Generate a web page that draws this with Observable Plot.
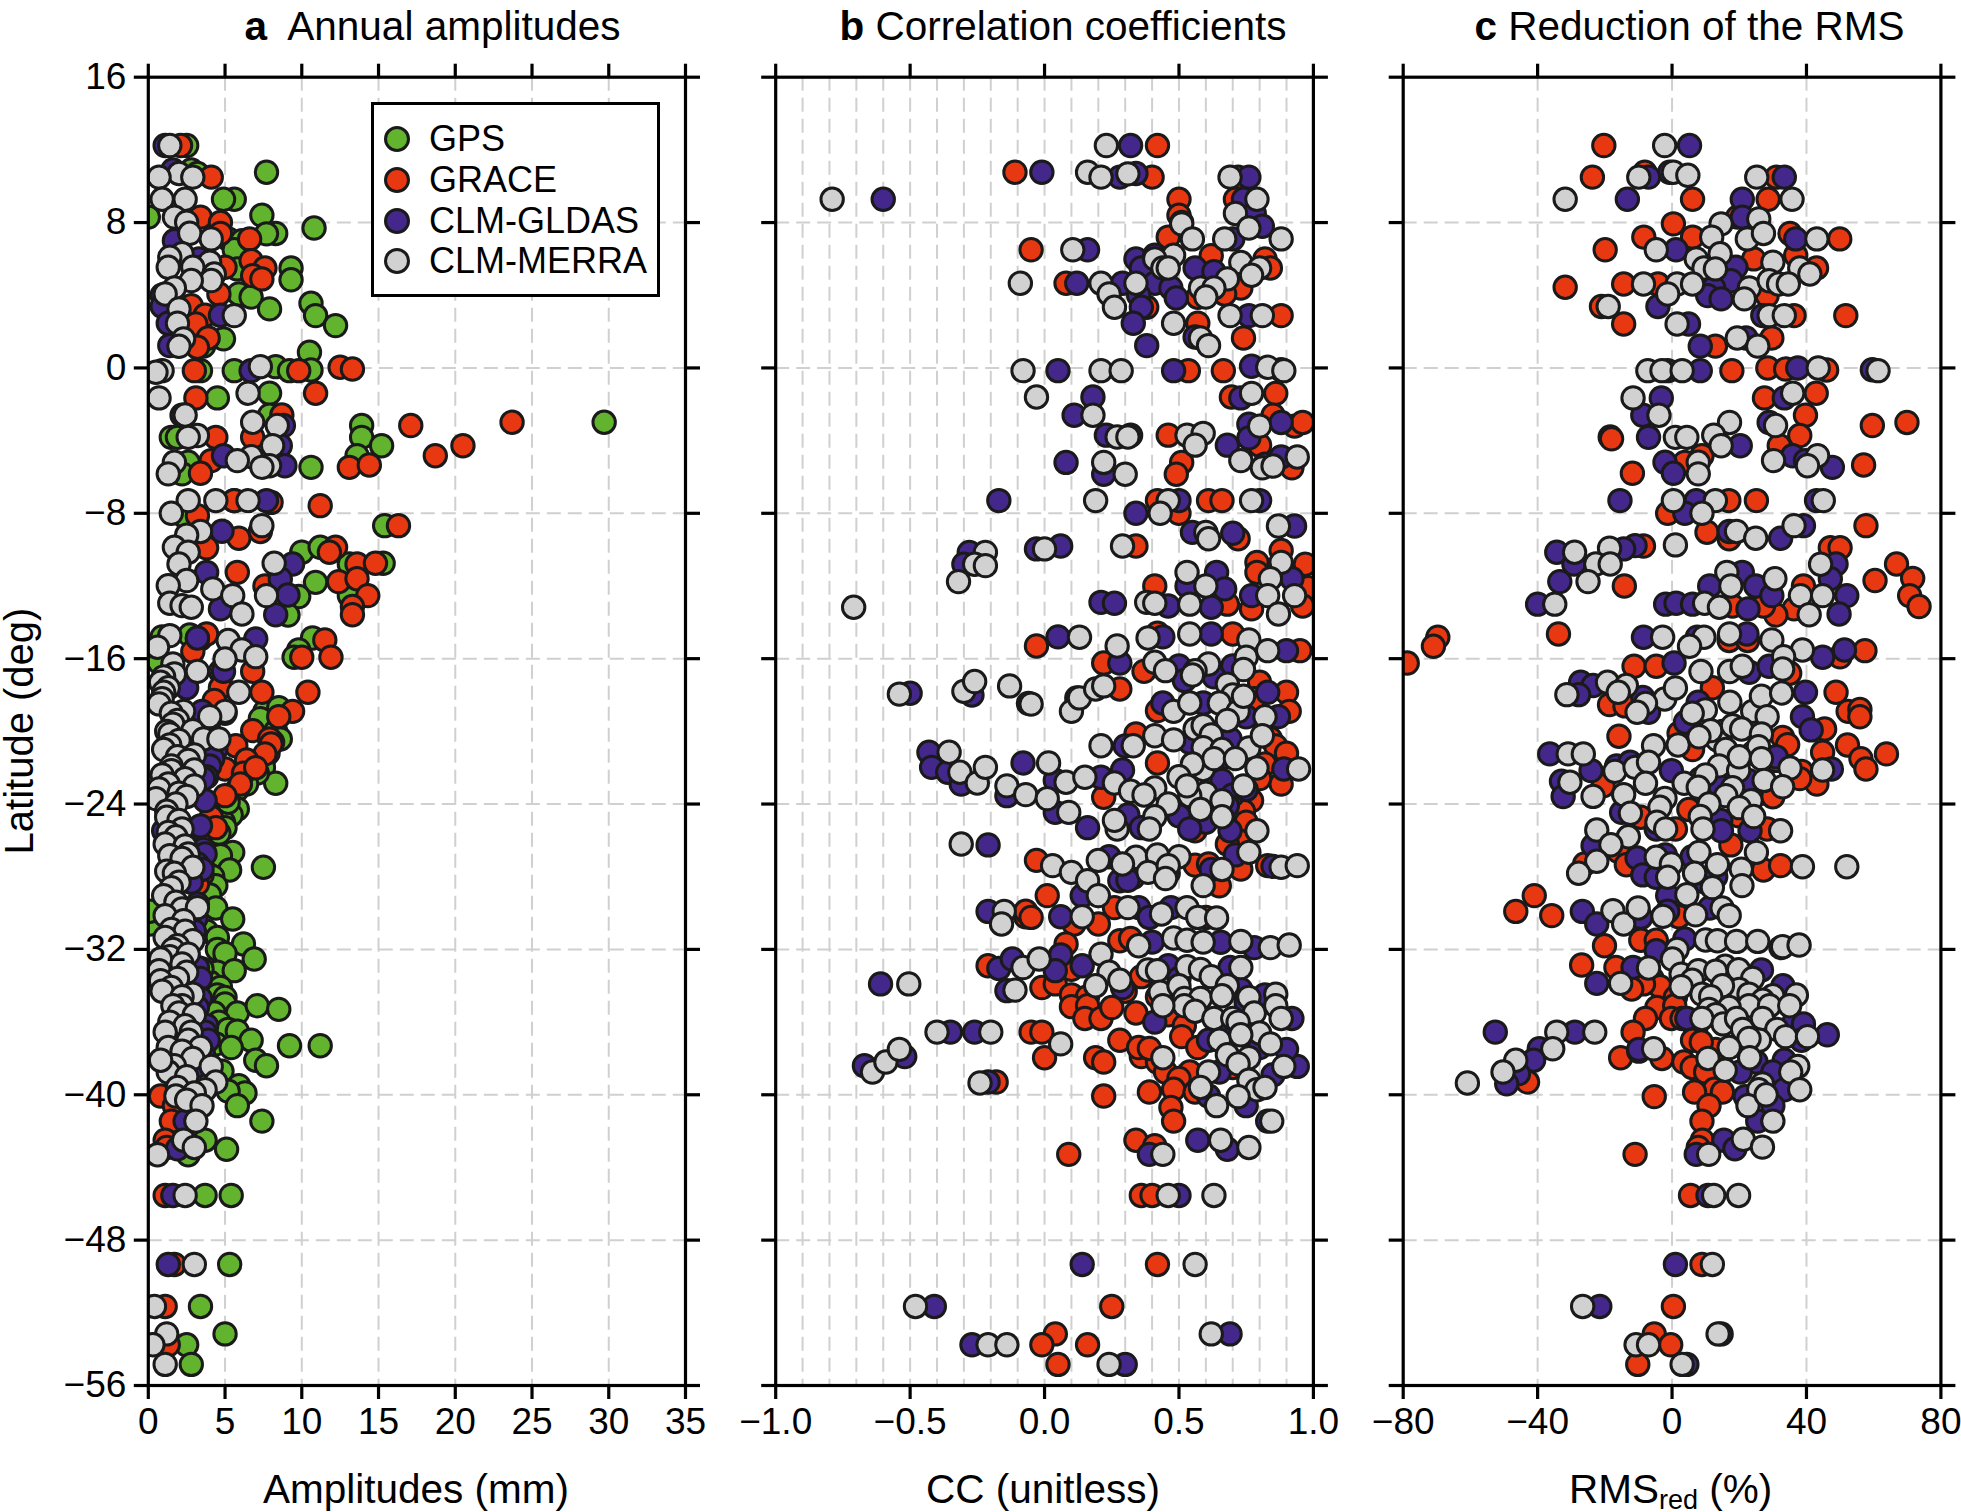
<!DOCTYPE html>
<html><head><meta charset="utf-8">
<script src="https://cdn.jsdelivr.net/npm/d3@7"></script>
<script src="https://cdn.jsdelivr.net/npm/@observablehq/plot@0.6"></script>
<style>
html,body{margin:0;padding:0;background:#fff;width:1961px;height:1512px;overflow:hidden;font-family:"Liberation Sans",Arial,sans-serif;color:#000}
.abs{position:absolute;white-space:pre}
.panel{position:absolute;top:0}
.panel svg{background:transparent;display:block}
.title,.xl{font-size:40.5px;line-height:44px;transform:translateX(-50%)}
.title{top:4px}.xl{top:1467px}
sub{font-size:27px;line-height:0;vertical-align:-6px}
#legend{left:371px;top:102px;width:283px;height:189px;border:3.2px solid #000;background:#fff}
#legend div{position:absolute;left:55px;font-size:36px;line-height:40px;white-space:pre}
#legend i{position:absolute;left:-45px;top:7px;width:20px;height:20px;border:3px solid #1a1a1a;border-radius:50%;display:block}
</style></head><body>
<script>
const seriesNames=["GPS","GRACE","CLM-GLDAS","CLM-MERRA"];
const seriesColors=["#62b32e","#e83812","#44278b","#d1d1d1"];
const latTicks=[16,8,0,-8,-16,-24,-32,-40,-48,-56];
const ampTicks=[0,5,10,15,20,25,30,35];
const ccTicks=[-1,-0.5,0,0.5,1];
const ccGrid=[-0.9,-0.8,-0.7,-0.6,-0.5,-0.4,-0.3,-0.2,-0.1,0,0.1,0.2,0.3,0.4,0.5,0.6,0.7,0.8,0.9];
const rmsTicks=[-80,-40,0,40,80];

// Panel a: [latitude, amplitude in mm]
const ampGps=[[12.24,2.5],[10.9,2.8],[10.7,3.2],[10.77,7.7],[9.28,5.6],[9.28,4.9],[8.3,0],[8.4,7.4],[7.7,10.8],[7.4,8.3],[7.38,7.7],[7.1,5.2],[7,6.1],[6.5,5.6],[5.5,9.3],[4.85,9.3],[5.45,5.8],[4.07,5.9],[3.9,6.7],[3.56,10.6],[3.25,7.9],[2.88,10.9],[2.33,12.2],[1.6,4.9],[1.2,3.6],[0.86,10.5],[-0.15,3.4],[-0.15,5.6],[0.07,8.3],[-0.15,9.2],[-0.11,10.6],[-1.65,4.5],[-1.39,7.9],[-2.6,7.9],[-3.17,13.9],[-2.99,29.7],[-3.82,1.5],[-3.82,1.9],[-3.82,13.9],[-4.28,15.2],[-5.19,2.6],[-5.83,2.2],[-5.47,10.6],[-4.83,13.6],[-7.3,5.6],[-8.13,2.3],[-8.68,15.4],[-10.14,10],[-9.87,11.2],[-10.79,13.1],[-10.75,15.3],[-11.8,10.9],[-12.53,13.1],[-12.58,9.8],[-13.6,9.1],[-14.86,10.7],[-15.52,9.8],[-15.92,9.5],[-14.8,0.9],[-14.7,2.7],[-14.9,3.4],[-16.2,0.7],[-16.7,4.7],[-17.8,5.1],[-18.9,7.6],[-18.7,8.5],[-19.3,7.3],[-20,8.3],[-20.42,8.6],[-20.6,8.1],[-21.2,7.8],[-21.6,7.5],[-22,7.5],[-22.4,6.7],[-22.86,8.3],[-22.3,7.1],[-22.9,6.4],[-23.2,5.8],[-24.27,5.8],[-24.6,5.4],[-25,4.9],[-23.9,5.2],[-25.3,5],[-25.6,4.6],[-26.66,5.5],[-26.84,4.7],[-27.63,5.3],[-27.48,7.5],[-28,4.2],[-28.49,4.4],[-29,4],[-29.72,4.4],[-30.33,5.5],[-30.6,0.1],[-29.9,0.1],[-31,3.8],[-31.34,4.5],[-32,4.5],[-31.7,6.2],[-32.53,6.9],[-32.22,5],[-33.26,4.5],[-33.8,4],[-33.17,5.6],[-33.08,3.5],[-34.09,4.7],[-34.5,4.5],[-34.64,5],[-35,5],[-35.5,4.3],[-35.5,5.8],[-35.1,7.1],[-35.3,8.5],[-36,4.6],[-36.4,5.2],[-36.5,5.8],[-37,6.7],[-37.2,4.4],[-37.3,9.2],[-37.3,11.2],[-37.4,5.4],[-38.1,7],[-38.4,7.7],[-38.7,4.8],[-39.5,5.9],[-39.9,6.3],[-39.8,5.2],[-40.6,5.8],[-41.45,7.4],[-42.5,3.7],[-43,5.1],[-43.3,2.6],[-45.54,3.7],[-45.54,5.4],[-49.34,5.3],[-51.65,3.4],[-53.16,5],[-53.76,2.5],[-54.84,2.8]];
const ampGrace=[[12.24,2.1],[10.5,4.1],[8.3,3.4],[8,4.7],[7.4,4.7],[7.1,6.6],[5.9,6.7],[5.5,7.6],[5.54,5],[5.08,6.8],[4.9,7.4],[4.07,4.6],[3.43,2.8],[2.9,3.7],[2.42,3.1],[1.65,3.9],[1.14,3.2],[-0.15,3],[-0.15,9.8],[0.04,12.5],[-0.06,13.3],[-1.65,3.1],[-1.39,10.9],[-2.59,8.7],[-3.17,17.1],[-2.99,23.7],[-3.82,4.4],[-3.82,6.8],[-4.28,20.5],[-5.1,4.1],[-5.8,3.4],[-5.47,13.1],[-5.34,14.4],[-4.83,18.7],[-7.58,11.2],[-7.3,5.6],[-7.4,8],[-8.13,3.2],[-8.68,16.3],[-9,7.3],[-9.37,5.9],[-9.9,3.8],[-9.87,12.2],[-10.14,11.8],[-10.79,13.6],[-10.75,14.8],[-11.25,5.8],[-11.76,12.4],[-11.6,13.6],[-12,7.6],[-12.53,14.3],[-13.13,13.3],[-13.58,13.3],[-14.64,3.8],[-14.9,3.2],[-14.97,11.5],[-15.92,10],[-15.92,11.9],[-15.6,2.9],[-16.7,6.8],[-17.85,7.4],[-17.85,10.4],[-17.6,4.7],[-18.3,4.3],[-18.9,9.4],[-19.19,8.5],[-19.96,6.8],[-20.42,7.9],[-20.79,5.7],[-20.7,8],[-21.24,7.6],[-21.58,6.4],[-22.07,5],[-22.3,6.2],[-22,7],[-22.9,6],[-23.54,5],[-24.73,4.1],[-25.47,3.6],[-25.3,4.4],[-27.9,3.5],[-28.4,3.2],[-40.07,0.8],[-40.6,1.7],[-41.45,1.5],[-42.5,1.1],[-42.9,1.2],[-45.54,1.1],[-49.34,1.7],[-51.65,1.1],[-53.76,1.3]];
const ampGldas=[[12.24,1.1],[10.9,1.6],[8.3,1.9],[7,1.7],[6,3.3],[5.5,3.3],[4,0.9],[3.4,0.9],[2.9,4.7],[2.46,1.3],[1.23,1.4],[-0.15,6.7],[-2.6,2.2],[-3.17,8.8],[-4.28,8.6],[-4.83,4.9],[-5.38,8.9],[-7.3,7.7],[-8.99,4.8],[-10.79,9.4],[-11.25,3.8],[-11.61,8.6],[-12.5,9.1],[-13.26,4.7],[-13.58,8.3],[-14.86,3.2],[-14.91,7],[-16.7,4.9],[-17.6,2.5],[-18.9,3.5],[-19,5],[-19.7,3.9],[-20,3.5],[-20.6,4.1],[-21,4.4],[-21.5,4.2],[-21.9,4],[-22.5,3.8],[-22.6,3.6],[-23.81,3.7],[-25.2,3.4],[-25.47,1],[-26.5,3.6],[-26.75,3.7],[-27.3,3.2],[-27.6,3.5],[-28.3,2.8],[-29.5,3.2],[-30.3,3.1],[-31,3],[-33,3.2],[-33.6,3.4],[-34.7,3.4],[-35.2,3.2],[-36.2,3.8],[-36.55,3.7],[-37,3.9],[-37.8,3.6],[-38.44,3.1],[-40,3],[-41.45,2.4],[-42.97,1.9],[-45.54,1.6],[-49.34,1.3]];
const ampMerra=[[12.24,1.4],[10.7,2],[10.5,0.7],[10.5,2.9],[9.28,0.9],[9.28,2.4],[8.3,1.7],[8.02,2.5],[7.41,2.7],[7.1,4.1],[6.28,2.2],[6.09,1.4],[5.82,4],[5.54,1.3],[5.54,2.9],[5.17,4.3],[4.81,4.1],[4.81,2.8],[4.4,1.7],[4.07,1.1],[3.25,2],[2.88,5.6],[2.46,1.9],[1.6,2.3],[1.19,2],[-0.15,0.9],[-0.24,0.5],[0.07,7.3],[-1.39,6.5],[-1.65,0.7],[-2.59,2.4],[-2.99,6.8],[-3.17,8.4],[-3.72,3.2],[-3.82,2.6],[-4.28,8.1],[-4.88,6.7],[-5.1,5.8],[-5.19,1.7],[-5.83,1.3],[-5.38,7.9],[-5.47,7.4],[-7.3,2.6],[-7.3,4.4],[-7.3,6.5],[-8,1.5],[-8.68,7.4],[-9,3.4],[-9.2,2.5],[-9.87,1.7],[-10.14,2.6],[-10.79,2],[-10.75,8.2],[-11.7,2.5],[-11.98,1.3],[-12.16,4.2],[-12.53,7.7],[-12.53,5.5],[-12.95,1.4],[-13.08,2.2],[-13.17,2.8],[-13.54,6.1],[-14.73,1.4],[-15,5.2],[-15.37,0.6],[-15.52,6.1],[-15.89,7],[-16.02,5],[-16.29,1.6],[-16.84,1.7],[-16.7,3.2],[-17,1],[-17.3,0.8],[-17.6,1.3],[-17.85,1],[-17.85,5.9],[-18.2,0.9],[-18.49,0.7],[-18.9,5],[-18.9,2.3],[-19,1.5],[-19.19,4],[-19.4,1.9],[-19.6,1.6],[-19.96,2.9],[-20,1.2],[-20.14,1.4],[-20.5,2],[-20.42,3.6],[-20.42,4.6],[-20.75,1.4],[-21,1],[-21.3,3],[-21.4,1.9],[-21.6,2.6],[-21.9,1.5],[-22.13,3],[-22.16,1.5],[-22.4,0.9],[-22.6,2.4],[-22.9,1.3],[-23,3],[-23.17,0.7],[-23.4,2],[-23.58,2.5],[-23.7,0.5],[-24,1.8],[-24.4,1.2],[-24.73,1.2],[-24.9,2],[-25.37,2.2],[-25.56,1.3],[-25.8,1.8],[-26.2,1.1],[-26.3,2.4],[-26.84,1.4],[-26.75,2.6],[-27,2.2],[-27.48,2.9],[-27.7,1.2],[-27.81,1.7],[-28.3,2],[-28.6,1.5],[-29.04,1],[-29.4,1.8],[-29.78,2.2],[-29.7,3.2],[-30.14,1.1],[-30.42,2.3],[-30.9,1.5],[-31,2.4],[-31.34,1.1],[-31.52,2.9],[-31.8,1.9],[-32,1.6],[-32.4,1.4],[-32.53,0.8],[-32.26,2.6],[-32.8,2.2],[-33.26,2.5],[-33.17,0.7],[-33.6,1.9],[-33.72,0.8],[-34.1,1.5],[-34.3,0.9],[-34.46,2.9],[-34.6,2.2],[-35.1,2.2],[-35.1,1.6],[-35.5,2],[-35.6,3],[-36,1.4],[-36.2,2.4],[-36.55,1.1],[-36.55,2.8],[-37,2.6],[-37.4,1.3],[-37.4,3.4],[-37.6,2.2],[-38,2.9],[-38.4,1.7],[-38.44,4.1],[-38.75,1.3],[-38.1,0.8],[-39,2.5],[-39.3,4.4],[-39.6,1.9],[-39.72,3.7],[-39.9,3],[-40.07,1.8],[-40.3,2.5],[-40.6,3.5],[-41.45,3.1],[-42.5,2.3],[-42.9,3],[-43.3,0.6],[-45.54,2.4],[-49.34,3],[-51.65,0.4],[-53.16,1.2],[-53.76,0.3],[-54.84,1.1]];

// Panel b: [latitude, correlation coefficient]
const ccGrace=[[12.24,0.42],[10.77,-0.11],[10.5,0.4],[10.5,0.72],[9.28,0.5],[9.28,0.71],[8.4,0.5],[7.2,0.46],[6.5,-0.05],[6.18,0.62],[6,0.82],[5.5,0.84],[4.66,0.08],[4.4,0.73],[3.89,0.57],[4.07,0.67],[3.34,0.38],[2.88,0.88],[2.46,0.57],[1.65,0.74],[-0.15,0.535],[-0.15,0.665],[-1.6,0.695],[-1.4,0.86],[-2.6,0.85],[-3.2,0.93],[-3,0.96],[-3.7,0.46],[-4.25,0.8],[-5.2,0.51],[-5.85,0.49],[-5.5,0.92],[-7.3,0.42],[-7.3,0.61],[-7.3,0.66],[-8,0.5],[-9.4,0.72],[-9.8,0.34],[-10.05,0.88],[-10.7,0.79],[-10.8,0.97],[-11.25,0.79],[-12,0.41],[-12.1,0.98],[-13,0.68],[-13.26,0.77],[-13.1,0.96],[-14.6,0.42],[-14.64,0.7],[-15.3,-0.03],[-15.56,0.95],[-16.24,0.22],[-16.7,0.37],[-17.3,0.8],[-17.67,0.28],[-17.85,0.9],[-18.2,0.78],[-18.86,0.42],[-18.9,0.91],[-19.6,0.82],[-20.14,0.34],[-20.4,0.84],[-20.8,0.86],[-21.74,0.42],[-21.2,0.9],[-21.8,0.82],[-22.6,0.8],[-22.9,0.88],[-23.63,0.22],[-23.81,0.77],[-24.4,0.74],[-25,0.75],[-25.47,0.56],[-26,0.72],[-26.2,0.68],[-27.36,0.56],[-27.3,0.61],[-27.58,0.73],[-27.39,0.83],[-27.1,-0.03],[-27.8,0.46],[-28.03,0.33],[-28.5,0.65],[-29.04,0.01],[-29.7,0.26],[-30.2,-0.07],[-29.9,-0.07],[-30.24,-0.05],[-30.6,0.11],[-30.6,0.2],[-30.24,0.6],[-31.52,0.28],[-31.4,0.32],[-31.7,0.08],[-32.9,-0.21],[-33.1,0.1],[-33.5,0.36],[-34.1,-0.01],[-33.9,0.04],[-34.3,0.3],[-34.5,0.1],[-34.6,0.16],[-34.6,0.42],[-35.15,0.1],[-35.1,0.16],[-35.6,0.46],[-35.8,0.15],[-35.8,0.21],[-35.2,0.25],[-35.5,0.34],[-36.2,0.52],[-36.55,-0.05],[-36.55,-0.01],[-37,0.28],[-37.96,0],[-37.96,0.19],[-38.2,0.22],[-37.9,0.36],[-38.2,0.42],[-37.4,0.35],[-37.45,0.39],[-36.8,0.51],[-37.4,0.57],[-38.75,0.45],[-38.75,0.54],[-39.1,0.5],[-38.5,0.7],[-39.3,-0.18],[-40.07,0.22],[-39.85,0.39],[-39.7,0.48],[-39.85,0.56],[-40.7,0.47],[-41.45,0.48],[-42.5,0.34],[-42.8,0.41],[-43.28,0.09],[-45.54,0.36],[-45.54,0.4],[-49.34,0.42],[-51.65,0.25],[-53.16,0.04],[-53.76,-0.01],[-53.76,0.16],[-54.84,0.05]];
const ccGldas=[[12.24,0.32],[10.77,-0.01],[10.5,0.28],[10.7,0.34],[10.5,0.76],[9.28,-0.6],[9.28,0.74],[8.5,0.78],[8,0.51],[7.8,0.81],[7.1,0.7],[6.5,0.16],[6,0.34],[6.2,0.41],[5.5,0.36],[5.5,0.56],[5.3,0.63],[4.66,0.12],[4.66,0.29],[4.66,0.41],[4.4,0.47],[4,0.35],[3.85,0.49],[3.34,0.36],[2.88,0.76],[2.46,0.33],[1.7,0.56],[1.23,0.38],[-0.15,0.05],[-0.15,0.48],[0.09,0.77],[-0.1,0.88],[-1.6,0.18],[-1.65,0.73],[-2.6,0.11],[-3,0.88],[-3.1,0.76],[-3.7,0.23],[-3.7,0.32],[-4.25,0.68],[-3.85,0.76],[-4.9,0.88],[-5.2,0.08],[-5.85,0.22],[-5.3,0.82],[-7.3,-0.17],[-7.3,0.5],[-7.3,0.8],[-8,0.34],[-8.7,0.93],[-9.05,0.55],[-9.1,0.7],[-9.96,-0.03],[-9.8,0.06],[-10.15,-0.28],[-10.8,-0.3],[-11.25,0.64],[-11.6,0.92],[-12,0.53],[-12.16,0.67],[-12.53,0.77],[-12.9,0.21],[-12.95,0.26],[-13.1,0.46],[-13.17,0.62],[-14.8,0.05],[-14.64,0.62],[-14.8,0.44],[-15.56,0.9],[-16.24,0.28],[-16.4,0.5],[-16.4,0.7],[-17,0.63],[-17.2,0.52],[-17.9,-0.5],[-18,-0.27],[-18.46,-0.06],[-18.16,0.12],[-18.44,0.44],[-18.44,0.59],[-17.85,0.83],[-19.19,0.87],[-19.2,0.75],[-19.9,0.6],[-20.6,0.54],[-20.8,0.3],[-20.42,0.69],[-21.4,0.67],[-21.15,-0.43],[-21.98,-0.42],[-22.25,-0.36],[-22.9,-0.31],[-21.74,-0.08],[-22.7,0.04],[-23.54,-0.14],[-22.53,0.21],[-22.13,0.29],[-24.46,0.04],[-22.07,0.89],[-22.7,0.66],[-23.5,0.7],[-23.81,0.61],[-23.2,0.75],[-24.1,0.68],[-25,0.6],[-25.3,0.16],[-24.6,0.31],[-25.3,0.36],[-24.64,0.5],[-25.37,0.54],[-25.47,0.69],[-26.25,-0.21],[-26.9,0.24],[-28.22,0.28],[-28.2,0.31],[-27.6,0.62],[-26.8,0.71],[-27.43,0.85],[-29.04,0.14],[-29.91,-0.21],[-30.2,0.06],[-29.7,0.35],[-30.24,0.39],[-29.7,0.47],[-31.6,0.4],[-31.61,0.655],[-31.9,0.78],[-33.05,-0.17],[-32.53,-0.12],[-32.3,0.06],[-33.17,0.04],[-32.9,0.14],[-32.9,0.46],[-33,0.69],[-33.6,0.5],[-33.9,-0.61],[-34.27,-0.14],[-34.1,0.29],[-34.2,0.73],[-34.5,0.82],[-34.9,0.75],[-36,0.41],[-36.4,0.68],[-36.55,-0.35],[-36.55,-0.26],[-35.8,0.92],[-37.4,0.8],[-37.9,-0.52],[-38.4,-0.67],[-37,0.61],[-38.75,0.65],[-38.44,0.94],[-38.9,0.85],[-37.5,0.9],[-39.3,-0.21],[-40.07,0.61],[-40.6,0.75],[-41.45,0.83],[-42.5,0.57],[-43,0.68],[-43.28,0.39],[-45.54,0.5],[-49.34,0.14],[-51.65,-0.41],[-53.16,0.69],[-53.76,-0.27],[-54.84,0.3]];
const ccMerra=[[12.24,0.23],[10.77,0.16],[10.5,0.21],[10.68,0.31],[10.5,0.69],[9.28,-0.79],[9.28,0.79],[8.5,0.71],[7.93,0.51],[7.7,0.76],[7.1,0.67],[7.1,0.88],[7.1,0.55],[6.5,0.105],[6.2,0.48],[6,0.41],[5.8,0.73],[5.5,0.44],[5.5,0.46],[5.5,0.8],[5.1,0.77],[4.9,0.68],[4.66,-0.09],[4.66,0.21],[4.66,0.34],[4.4,0.58],[4.4,0.63],[4.07,0.24],[3.9,0.6],[3.34,0.26],[2.88,0.69],[2.88,0.81],[2.46,0.48],[1.65,0.58],[1.23,0.61],[-0.15,-0.08],[-0.15,0.21],[-0.15,0.285],[0.04,0.83],[-0.15,0.89],[-1.6,-0.03],[-1.4,0.77],[-2.6,0.18],[-3.2,0.8],[-3.8,0.27],[-3.8,0.31],[-3.7,0.53],[-3.6,0.59],[-4.25,0.56],[-5.1,0.73],[-5.2,0.22],[-5.85,0.3],[-5.5,0.81],[-5.4,0.85],[-4.9,0.94],[-7.3,0.19],[-7.3,0.46],[-7.3,0.77],[-8,0.43],[-8.7,0.87],[-9.05,0.6],[-9.4,0.61],[-9.96,0],[-9.8,0.29],[-10.15,-0.22],[-10.8,-0.26],[-10.88,-0.22],[-11.76,-0.32],[-11.25,0.53],[-10.7,0.88],[-12,0.6],[-11.6,0.84],[-12.53,0.83],[-12.53,0.93],[-13.17,-0.71],[-12.9,0.38],[-12.95,0.41],[-13,0.54],[-13.54,0.87],[-14.64,0.54],[-14.97,0.76],[-14.86,0.385],[-14.82,0.13],[-15.3,0.27],[-15.56,0.83],[-15.92,0.75],[-16.2,0.41],[-16.29,0.61],[-16.6,0.74],[-16.66,0.45],[-16.66,0.56],[-16.9,0.55],[-17.4,0.68],[-18,0.7],[-17.95,-0.54],[-17.8,-0.3],[-17.26,-0.26],[-17.5,-0.13],[-18.5,-0.05],[-18.9,0.1],[-18.16,0.13],[-17.67,0.19],[-17.5,0.22],[-18.9,0.48],[-18.44,0.54],[-18.44,0.65],[-18.9,0.72],[-18.07,0.74],[-19.2,0.82],[-19.4,0.68],[-19.87,0.56],[-19.69,0.59],[-20.2,0.62],[-20.79,0.21],[-20.79,0.33],[-20.24,0.41],[-20.47,0.48],[-20.9,0.59],[-20.91,0.76],[-20.24,0.81],[-21,0.66],[-21.15,-0.355],[-22.25,-0.315],[-22.84,-0.25],[-21.98,-0.22],[-23,-0.14],[-23.48,-0.07],[-23.7,0.01],[-21.74,0.015],[-22.8,0.08],[-24.46,0.09],[-22.53,0.15],[-22.84,0.26],[-23.3,0.32],[-23.12,0.41],[-23.5,0.37],[-22.1,0.59],[-21.5,0.63],[-21.5,0.71],[-21.8,0.55],[-22.5,0.5],[-22.02,0.79],[-22.07,0.945],[-23,0.74],[-23.4,0.6],[-23.54,0.54],[-23,0.53],[-23.81,0.66],[-24,0.46],[-24.3,0.58],[-25.37,0.27],[-24.9,0.26],[-24.7,0.41],[-25.37,0.39],[-24.7,0.66],[-25.47,0.79],[-26.2,-0.31],[-26.9,0.5],[-27.39,0.03],[-27.76,0.1],[-28.22,0.16],[-27.1,0.2],[-26.93,0.34],[-26.8,0.42],[-27.76,0.385],[-27.39,0.46],[-28.1,0.45],[-27.3,0.29],[-27.6,0.66],[-26.66,0.76],[-27.48,0.88],[-27.39,0.94],[-28.49,0.59],[-29.04,0.2],[-29.91,-0.15],[-30.6,-0.16],[-30.2,0.14],[-29.7,0.31],[-29.7,0.53],[-30.05,0.435],[-30.24,0.57],[-30.27,0.64],[-31.8,0.35],[-31.37,0.48],[-31.5,0.53],[-31.6,0.59],[-31.56,0.73],[-31.9,0.84],[-31.76,0.91],[-33,-0.08],[-32.53,-0.02],[-32.26,0.21],[-33.26,0.24],[-33.7,0.28],[-33.13,0.385],[-33.17,0.42],[-32.95,0.53],[-33.1,0.58],[-33,0.73],[-33.5,0.62],[-33.9,-0.505],[-34,0.68],[-34.24,-0.11],[-34,0.19],[-34.36,0.43],[-34,0.5],[-34.7,0.52],[-34.7,0.58],[-34.55,0.66],[-34.64,0.76],[-34.46,0.86],[-35.1,0.52],[-35.1,0.44],[-35.4,0.56],[-35.8,0.63],[-35.8,0.7],[-35.5,0.78],[-35.1,0.86],[-35.8,0.88],[-36,0.72],[-36.55,-0.4],[-36.55,-0.2],[-36.6,0.8],[-37.2,0.06],[-37,0.65],[-36.7,0.73],[-37.2,0.84],[-37.96,0.44],[-37.8,0.68],[-37.96,0.76],[-38.3,0.72],[-38.44,0.89],[-38.75,-0.64],[-38.2,-0.59],[-37.5,-0.54],[-38.75,0.61],[-39.2,0.76],[-39.6,0.58],[-39.72,0.79],[-39.6,0.82],[-39.35,-0.24],[-40.6,0.64],[-40.1,0.72],[-41.45,0.845],[-42.5,0.655],[-42.9,0.76],[-43.28,0.44],[-45.54,0.46],[-45.54,0.63],[-49.34,0.56],[-51.65,-0.48],[-53.16,0.62],[-53.76,-0.21],[-53.76,-0.14],[-54.84,0.24]];

// Panel c: [latitude, RMS reduction in percent]
const rmsGrace=[[12.24,-20.3],[10.77,-8.1],[10.5,-23.7],[10.5,31.1],[9.28,6.1],[9.28,28.6],[8.3,19.5],[7.93,0.4],[7.2,-8.4],[7.2,6.1],[7.4,35.1],[7.1,49.9],[6.5,-19.9],[6,24.3],[6.2,36.8],[5.5,43],[4.44,-31.8],[4.62,-14.4],[4.62,-4.2],[3.98,28.3],[3.38,-21],[2.88,36.3],[2.88,51.7],[2.42,-14.4],[1.65,29.7],[1.2,12.9],[-0.15,17.8],[0,28.5],[-0.06,33.8],[-0.11,46],[-1.65,27.5],[-1.39,42.9],[-2.6,39.7],[-3.17,59.6],[-3,69.9],[-3.8,-18.4],[-3.9,-18],[-3.72,38],[-4.28,31.9],[-5.2,3.8],[-4.83,8.9],[-5.8,-11.8],[-5.34,57],[-7.3,16.9],[-7.3,25.1],[-8,-1.3],[-8.68,57.7],[-9.04,10.4],[-9.4,17],[-9.8,-8.5],[-9.9,47.1],[-9.9,50],[-10.79,66.8],[-12,-14.2],[-12,39.1],[-11.7,60.4],[-11.58,71.6],[-12.53,70.7],[-13.13,73.5],[-13.26,36.3],[-13.6,30.9],[-13.1,18],[-13.1,27.2],[-14.64,-33.8],[-15,17],[-15,22.5],[-14.82,-69.7],[-15.32,-71],[-16.24,-78.8],[-16.42,-11.3],[-16.42,-4.7],[-16.8,35],[-15.56,57.4],[-15.9,50],[-17.6,12],[-18.53,-18.6],[-18.6,-14],[-17.85,48.8],[-18.9,52.4],[-18.8,55.9],[-19.2,55.9],[-19.7,5],[-19.87,45.4],[-20.27,-15.8],[-20.1,2.1],[-21,6.1],[-20.33,32.9],[-20.73,34.4],[-21.15,44.8],[-20.75,52.2],[-21.5,56.2],[-21.6,31],[-21.24,63.8],[-22.07,57.7],[-22.2,38.5],[-22.9,43.1],[-22.6,38],[-23,-20.5],[-23.4,27],[-23.6,30],[-22.6,8.5],[-24.3,5],[-24.73,-9.3],[-24.64,19.8],[-25.37,1],[-25.37,28.3],[-26.25,17.5],[-26.6,-16],[-27.3,-26],[-27.34,-13.6],[-27.63,27.2],[-27.39,32.3],[-29.04,-41],[-29.91,-46.5],[-30.14,-35.8],[-30.2,2],[-31.8,-20.1],[-31.5,-9.3],[-31.5,-4.7],[-32.86,-26.9],[-32.99,-16.7],[-33.6,-6],[-34.4,-2],[-34.05,-3.6],[-33.9,-8.5],[-34.18,-12],[-34.64,1],[-35.2,-4.5],[-35.1,0.8],[-35.8,-7.9],[-35.8,-0.2],[-35.8,3],[-36.4,7],[-36.55,-11.6],[-37.5,13],[-37.96,-15.3],[-37.6,-9.9],[-38,-3],[-38.2,3.5],[-38.5,6],[-37,6.1],[-37.1,8.7],[-38.75,10],[-39.7,12.6],[-39.85,6.7],[-39.85,15],[-39.3,-43],[-40.1,-5.3],[-40.6,11],[-41.45,8.9],[-42.5,9],[-42.9,7.8],[-43.28,-11],[-45.54,5.5],[-49.34,8.9],[-51.65,0.4],[-53.16,-5.3],[-53.76,-0.4],[-54.84,-10.2]];
const rmsGldas=[[12.24,5.2],[10.77,-0.7],[10.5,-7],[10.5,33.4],[9.28,-13.3],[9.28,20.9],[8.3,20.9],[7.1,36.8],[6.5,1.2],[5.54,19],[4.8,17.5],[4.4,12.4],[3.98,10.6],[3.8,14.6],[3.38,-4.2],[2.88,27],[2.42,4.9],[1.65,22],[1.2,8.4],[-0.15,-1.3],[-0.15,8.4],[0,37.4],[-0.1,59.6],[-1.65,-3.2],[-1.65,33.4],[-2.6,-8.7],[-3,28.9],[-3.82,-7],[-4.28,20.3],[-5.19,-2.1],[-5.8,0.4],[-4.83,35.9],[-5.1,39.7],[-5.47,47.7],[-7.3,-15.5],[-7.3,7.2],[-7.3,43],[-8,3.8],[-8.68,39.1],[-9,17],[-9.37,32.3],[-9.78,-11],[-9.96,-14.4],[-10.14,-34.3],[-10.79,-29.2],[-10.79,48.8],[-11.76,-33.4],[-11.6,47.1],[-11.25,20.9],[-12,11.2],[-12,24.9],[-12.53,29.7],[-12.53,52],[-13.54,49.7],[-13.26,22.6],[-13,-40],[-13,-1.9],[-12.95,1.2],[-13,6.1],[-14.82,-8.5],[-14.82,7.5],[-14.64,22.3],[-15.92,44.8],[-15.52,51.3],[-16.24,0.6],[-16.75,23],[-16.42,28.9],[-17.3,-27.2],[-17.48,-23.5],[-17.98,-27.8],[-18.13,-8.7],[-18.95,-7],[-18.4,7.8],[-17.85,39.7],[-19.19,38.8],[-19.5,4],[-19.92,41.4],[-20.5,14],[-21.2,24],[-21.4,31],[-21.24,-36.4],[-22.16,-24.1],[-22.75,-32.9],[-23.59,-32.4],[-21.9,-16.5],[-21.7,-12.5],[-22.16,-0.2],[-22.07,47.4],[-22.7,22.7],[-23,14],[-24,22],[-24.46,-15],[-24.9,14.5],[-25.37,-4.7],[-25.47,14.7],[-25.47,23.2],[-26.29,-23.5],[-26.9,6],[-26.97,-10.4],[-26.8,-2],[-27.9,-8.7],[-28,13],[-28.03,-4.7],[-28.31,10],[-29.04,-1.3],[-29.91,-26.7],[-30.6,-22.4],[-29.72,11.2],[-29.9,-1.3],[-30.24,-9.3],[-31.43,3.8],[-31.9,32.4],[-32.99,-11.6],[-32.07,-4.7],[-33.13,26.6],[-33.8,17],[-33.87,-22.4],[-34,33],[-34.9,14],[-35.8,4.4],[-36,36.3],[-36.1,39.1],[-36.55,-52.6],[-36.55,-28.9],[-36.6,25],[-36.7,46.2],[-37.47,-39.5],[-37.5,-9.9],[-37,38.5],[-38.1,-41.2],[-38.2,25],[-38.85,-45.7],[-39.4,-49.2],[-38.1,33.4],[-38.75,30],[-38.75,20.3],[-39.72,33.4],[-40.1,21.8],[-40.6,30],[-41.45,25.5],[-42.5,15.4],[-42.97,18.7],[-43.28,7.2],[-45.54,10.7],[-49.34,1],[-51.65,-21.5],[-53.16,14.6],[-54.84,4.4]];
const rmsMerra=[[12.24,-2.2],[10.5,-9.9],[10.77,0.4],[10.6,4.7],[10.5,25.2],[9.28,-31.8],[9.28,35.7],[8.2,25.8],[7.93,14.6],[7.2,11.8],[7.1,22.4],[7.4,27.2],[7.1,43.1],[6.5,-4.7],[6.28,14.3],[6,7.2],[5.82,30],[5.5,9.5],[5.45,12.9],[5.5,38],[5.17,41],[4.62,-8.5],[4.62,1.5],[4.62,6.1],[4.4,23],[4.8,28.9],[4.62,31.7],[4.62,34.6],[4.07,-1.3],[3.8,21.5],[3.38,-19],[2.88,28.9],[2.88,33.4],[2.42,1.5],[1.65,19.4],[1.2,25.5],[-0.15,-7.2],[-0.15,-3],[-0.15,3],[0,43.5],[-0.15,61.3],[-1.65,-11.6],[-1.39,35.9],[-2.6,-3.9],[-3,17.1],[-3.17,30.8],[-3.82,1],[-3.82,4.4],[-3.7,12.4],[-4.28,14.6],[-5.19,7.8],[-5.1,30.2],[-4.83,43.3],[-5.38,40.3],[-5.83,7.8],[-7.3,0.4],[-7.3,12.9],[-7.3,45],[-8,8.9],[-8.68,36.3],[-9,19.2],[-9.37,24.9],[-9.92,-18.6],[-9.74,1],[-10.14,-29],[-10.79,-22.7],[-10.79,-18.4],[-10.8,44.2],[-11.76,-25],[-11.25,16.3],[-12,17.5],[-11.6,30.6],[-12.53,38.2],[-12.53,44.8],[-13.58,40.8],[-13,-34.9],[-12.95,9.7],[-13.17,14.1],[-14.64,17.1],[-14.82,-2.8],[-14.82,9.5],[-15.32,5.2],[-14.97,29.7],[-15.52,38.8],[-15.89,33.2],[-16.71,8.6],[-16.71,17.1],[-16.42,20.9],[-16.57,32.9],[-17.3,-19.2],[-17.48,-13.6],[-17.98,-31.3],[-17.85,-16],[-18.22,-2.2],[-17.61,1],[-18.46,-7.9],[-18.95,-10.4],[-18.82,9.9],[-18.4,17.2],[-18.9,24],[-18.07,26.6],[-19,6],[-19.19,28.3],[-17.89,32.6],[-20,15],[-20.79,-5.5],[-20.75,1.8],[-20.47,13.5],[-19.96,11.5],[-19.69,18],[-19.87,20.7],[-20.14,26.6],[-20.84,25.7],[-20.3,8],[-21,16],[-21.24,-30.9],[-21.24,-26.4],[-21.9,14],[-22.2,-17],[-21.98,-11],[-21.7,-7],[-22.16,19.8],[-21.4,20],[-21.5,26.6],[-22.02,35.1],[-22.13,44.8],[-22.4,10],[-22.8,-30.4],[-23.1,18],[-23.58,-23.5],[-23.48,-14.4],[-22.86,-7.9],[-22.86,3.6],[-23.08,7.8],[-23.69,-2.1],[-23.54,16],[-22.7,27.4],[-23.05,32.9],[-23.81,23.5],[-24,11],[-24.2,20],[-24.51,-12.4],[-24.18,-3.6],[-25,-4.5],[-25.37,-1.9],[-24.69,8.4],[-25.37,9.2],[-24.69,24.3],[-25.47,32.3],[-25.43,-22.4],[-25.8,-13],[-26.24,-18.2],[-27.15,-22.4],[-27.81,-27.8],[-26.93,-4.7],[-27.3,-0.2],[-26.66,8],[-27.81,6.7],[-27.34,13.5],[-27.58,20.6],[-26.66,25.1],[-27.45,38.8],[-27.45,52],[-28.49,20.8],[-28.6,12],[-28.03,-1.3],[-28.99,4.4],[-29.87,-17.6],[-30.6,-14.4],[-29.72,-10.1],[-30.18,-2.7],[-30.1,7],[-29.72,14.9],[-30.14,17],[-31.48,10],[-31.52,13.5],[-31.56,19.2],[-31.56,25.5],[-31.85,32.9],[-31.76,37.8],[-32,1.5],[-33.02,-7],[-32.53,0.1],[-33.36,2.7],[-33.17,7.8],[-32.93,15.8],[-33.12,19.8],[-33.2,13],[-33.6,24],[-33.7,6],[-33.87,-15.3],[-34.05,2.7],[-34.2,20],[-34.46,8.9],[-34,15],[-34.46,22.9],[-34.55,30],[-34.51,37],[-34.6,11.5],[-34.8,27],[-35.1,22.9],[-35.3,11],[-35.2,17],[-35.1,29],[-35.1,35],[-35.6,13],[-35.8,8.9],[-36.1,15.2],[-35.8,19.2],[-35.8,26.9],[-36.4,21],[-36.55,-34.3],[-36.55,-23],[-36.4,31.2],[-36.8,33.8],[-36.8,40.3],[-37,26],[-37.47,-35.5],[-37.47,-5.5],[-36.9,22.9],[-37.4,17],[-38,10.7],[-37.96,23.1],[-38.1,-46.5],[-38.75,-50.3],[-39.35,-60.9],[-38.44,37.4],[-38.75,35.3],[-38.65,15.8],[-39.4,26.9],[-39.72,25.8],[-39.72,38],[-40.6,22.6],[-40,28],[-41.45,30],[-42.45,21.2],[-42.88,26.9],[-43.28,10.9],[-45.54,12.4],[-45.54,19.8],[-49.34,12],[-51.65,-26.6],[-53.16,13.7],[-53.76,-10.7],[-53.76,-7],[-54.84,3]];

const ink="#1a1a1a",gridC="#d0d0d0",fontF='"Liberation Sans",Arial,sans-serif';
const minus=s=>String(s).replace("-","\u2212");
const frameTop=76.7,frameBottom=1385;
function panel({left,svgW,x0,x1,domain,xTicks,xGrid,fmt,showY,series}){
  const marks=[
    Plot.gridX(xGrid,{stroke:gridC,strokeOpacity:1,strokeWidth:2,strokeDasharray:"14 7"}),
    Plot.gridY(latTicks.filter(d=>d!==16&&d!==-56),{stroke:gridC,strokeOpacity:1,strokeWidth:2,strokeDasharray:"14 7"})
  ];
  series.forEach(s=>marks.push(Plot.dot(s.data,{x:d=>d[1],y:d=>d[0],r:11.2,fill:seriesColors[s.i],stroke:ink,strokeWidth:3,clip:true})));
  marks.push(Plot.frame({stroke:"#000",strokeWidth:3.2}));
  const ax={stroke:"#000",strokeWidth:3.2,tickSize:14,tickPadding:8,fontSize:37,fill:"#000",label:null};
  marks.push(Plot.axisX({...ax,anchor:"bottom",ticks:xTicks,tickFormat:fmt}));
  marks.push(Plot.axisX({...ax,anchor:"top",ticks:xTicks,tickFormat:()=>""}));
  marks.push(Plot.axisY({...ax,anchor:"left",ticks:latTicks,tickFormat:showY?(d=>minus(d)):()=>""}));
  marks.push(Plot.axisY({...ax,anchor:"right",ticks:latTicks,tickFormat:()=>""}));
  const svg=Plot.plot({width:svgW,height:1512,marginLeft:x0-left,marginRight:left+svgW-x1,marginTop:frameTop,marginBottom:1512-frameBottom,
    x:{domain,label:null},y:{domain:[-56,16],label:null},style:{fontFamily:fontF,background:"transparent",overflow:"visible"},marks});
  const d=document.createElement("div");d.className="panel";d.style.left=left+"px";d.appendChild(svg);document.body.appendChild(d);
}
panel({left:0,svgW:720,x0:147.8,x1:685,domain:[0,35],xTicks:ampTicks,xGrid:ampTicks.slice(1,-1),fmt:d=>String(d),showY:true,
  series:[{i:0,data:ampGps},{i:1,data:ampGrace},{i:2,data:ampGldas},{i:3,data:ampMerra}]});
panel({left:725,svgW:625,x0:775.2,x1:1312.9,domain:[-1,1],xTicks:ccTicks,xGrid:ccGrid,fmt:d=>minus(d3.format(".1f")(d)),showY:false,
  series:[{i:1,data:ccGrace},{i:2,data:ccGldas},{i:3,data:ccMerra}]});
panel({left:1355,svgW:606,x0:1402.7,x1:1940.4,domain:[-80,80],xTicks:rmsTicks,xGrid:[-40,0,40],fmt:d=>minus(d),showY:false,
  series:[{i:1,data:rmsGrace},{i:2,data:rmsGldas},{i:3,data:rmsMerra}]});

function addText(cls,x,html){const e=document.createElement("div");e.className="abs "+cls;e.style.left=x+"px";e.innerHTML=html;document.body.appendChild(e);}
addText("title",432.5,"<b>a</b>  Annual amplitudes");
addText("title",1063,"<b>b</b> Correlation coefficients");
addText("title",1689.5,"<b>c</b> Reduction of the RMS");
addText("xl",416,"Amplitudes (mm)");
addText("xl",1043,"CC (unitless)");
addText("xl",1670.6,"RMS<sub>red</sub> (%)");
const yl=document.createElement("div");yl.className="abs";yl.textContent="Latitude (deg)";
yl.style.cssText+="left:19px;top:731px;font-size:40px;line-height:36px;transform:translate(-50%,-50%) rotate(-90deg)";document.body.appendChild(yl);
const lg=document.createElement("div");lg.id="legend";lg.className="abs";
seriesNames.forEach((n,i)=>{const r=document.createElement("div");r.style.top=(14+i*40.8)+"px";r.textContent=n;
  const c=document.createElement("i");c.style.background=seriesColors[i];r.appendChild(c);lg.appendChild(r);});
document.body.appendChild(lg);
</script>
</body></html>
